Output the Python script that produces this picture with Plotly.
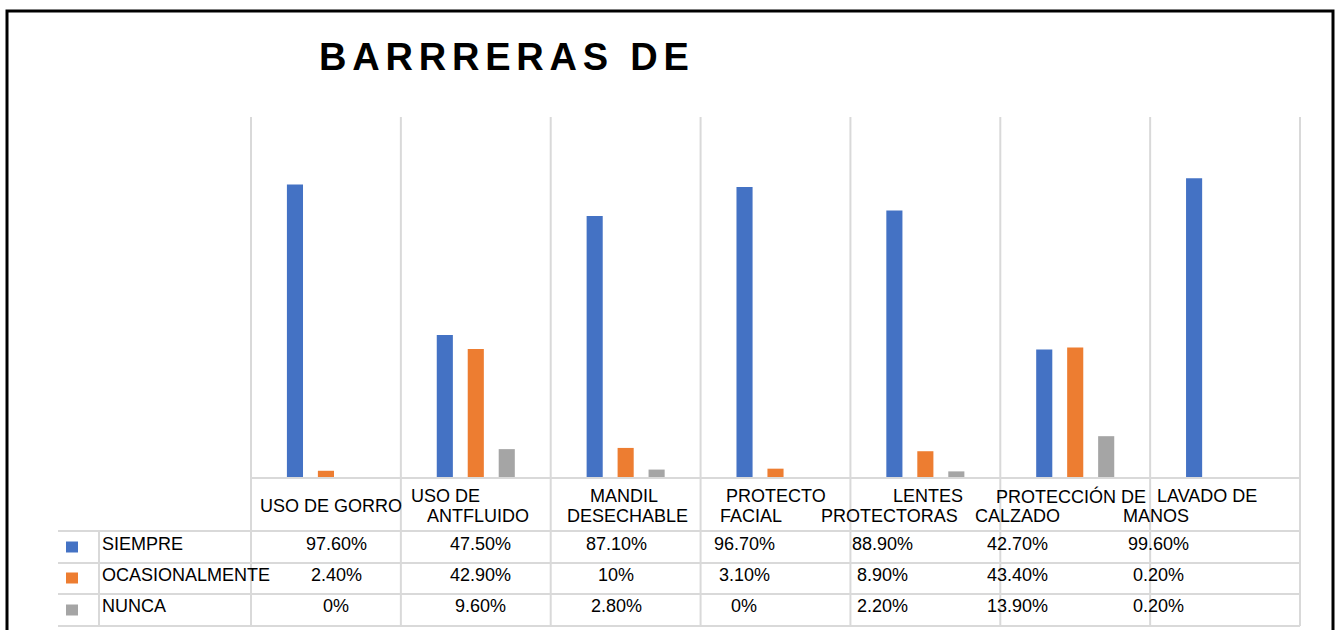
import plotly.graph_objects as go

W, H = 1339, 630

categorias = ["USO DE GORRO", "USO DE ANTFLUIDO", "MANDIL DESECHABLE", "PROTECTO FACIAL",
              "LENTES PROTECTORAS", "PROTECCIÓN DE CALZADO", "LAVADO DE MANOS"]
# como se ven las etiquetas partidas en dos lineas en la tabla
etiquetas = [["USO DE GORRO"], ["USO DE", "ANTFLUIDO"], ["MANDIL", "DESECHABLE"],
             ["PROTECTO", "FACIAL"], ["LENTES", "PROTECTORAS"],
             ["PROTECCIÓN DE", "CALZADO"], ["LAVADO DE", "MANOS"]]
series = ["SIEMPRE", "OCASIONALMENTE", "NUNCA"]
siempre = [97.6, 47.5, 87.1, 96.7, 88.9, 42.7, 99.6]
ocasionalmente = [2.4, 42.9, 10, 3.1, 8.9, 43.4, 0.2]
nunca = [0, 9.6, 2.8, 0, 2.2, 13.9, 0.2]
colores = ["#4472C4", "#ED7D31", "#A5A5A5"]

FONT = "Liberation Sans, Arial, sans-serif"


def px_x(x):
    return x / W


def px_y(y):
    return 1 - y / H


def fmt(v):
    if float(v).is_integer():
        return "%d%%" % v
    return "%.2f%%" % v


fig = go.Figure()
for nombre, vals, col in zip(series, [siempre, ocasionalmente, nunca], colores):
    fig.add_trace(go.Bar(x=categorias, y=vals, name=nombre, marker_color=col,
                         marker_line_width=0))

# geometria (pixeles)
plot_l, plot_r, plot_t, plot_b = 251, 1300, 117, 478
tabla_l = 58
filas = [531, 563, 594, 626]
centros_fila = [544, 575, 606]
centros_valor = [336, 480, 616, 744, 882, 1017, 1158]
celda_w = (plot_r - plot_l) / len(categorias)

shapes = []
grid = dict(color="#D9D9D9", width=2)
# borde exterior
shapes.append(dict(type="rect", xref="paper", yref="paper", x0=px_x(7), x1=px_x(1333),
                   y0=px_y(650), y1=px_y(11), line=dict(color="black", width=3)))
# lineas verticales entre categorias
for i in range(len(categorias) + 1):
    x = px_x(plot_l + i * celda_w)
    shapes.append(dict(type="line", xref="paper", yref="paper", x0=x, x1=x,
                       y0=px_y(filas[-1]), y1=px_y(plot_t), line=grid))
# base y filas de la tabla
shapes.append(dict(type="line", xref="paper", yref="paper", x0=px_x(plot_l), x1=px_x(plot_r),
                   y0=px_y(plot_b), y1=px_y(plot_b), line=grid))
for y in filas:
    shapes.append(dict(type="line", xref="paper", yref="paper", x0=px_x(tabla_l), x1=px_x(plot_r),
                       y0=px_y(y), y1=px_y(y), line=grid))
shapes.append(dict(type="line", xref="paper", yref="paper", x0=px_x(99), x1=px_x(99),
                   y0=px_y(filas[-1]), y1=px_y(filas[0]), line=grid))
# claves de leyenda
for yc, col in zip([547, 578, 610], colores):
    shapes.append(dict(type="rect", xref="paper", yref="paper", x0=px_x(66), x1=px_x(78),
                       y0=px_y(yc + 5.5), y1=px_y(yc - 5.5), fillcolor=col, line_width=0))

ann = []
txt = dict(family=FONT, size=18, color="black")
# etiquetas de categoria
pos_lineas = [[(331, 506)], [(446, 496), (478, 516)], [(624, 496), (627, 516)],
              [(776, 496), (751, 516)], [(928, 496), (889, 516)],
              [(1071, 496), (1017, 516)], [(1207, 496), (1156, 516)]]
for lineas, pos in zip(etiquetas, pos_lineas):
    for t, (x, y) in zip(lineas, pos):
        ann.append(dict(text=t, xref="paper", yref="paper", x=px_x(x), y=px_y(y),
                        xanchor="center", yanchor="middle", showarrow=False, font=txt))
# nombres de series
for nombre, yc in zip(series, centros_fila):
    ann.append(dict(text=nombre, xref="paper", yref="paper", x=px_x(100), y=px_y(yc),
                    xanchor="left", yanchor="middle", showarrow=False, font=txt))
# valores
for vals, yc in zip([siempre, ocasionalmente, nunca], centros_fila):
    for v, xc in zip(vals, centros_valor):
        ann.append(dict(text=fmt(v), xref="paper", yref="paper", x=px_x(xc), y=px_y(yc),
                        xanchor="center", yanchor="middle", showarrow=False, font=txt))
# titulo
ann.append(dict(text="<span style='letter-spacing:5.8px'><b>BARRRERAS DE</b></span>",
                xref="paper", yref="paper", x=px_x(317), y=px_y(57),
                xanchor="left", yanchor="middle", showarrow=False,
                font=dict(family=FONT, size=38, color="black")))

fig.update_layout(
    width=W, height=H, margin=dict(l=0, r=0, t=0, b=0),
    paper_bgcolor="white", plot_bgcolor="white",
    barmode="group", bargap=0.38, bargroupgap=0.48,
    showlegend=False,
    xaxis=dict(domain=[px_x(plot_l), px_x(plot_r)], showticklabels=False, showgrid=False,
               zeroline=False, showline=False, ticks=""),
    yaxis=dict(domain=[px_y(plot_b), px_y(plot_t)], range=[0, 120], showticklabels=False,
               showgrid=False, zeroline=False, showline=False, ticks=""),
    shapes=shapes, annotations=ann,
)

# sin margen en el body para que la figura ocupe toda la ventana
fig.write_html("out.html", config={"displayModeBar": False},
               post_script="document.body.style.margin='0';"
                           "document.documentElement.style.overflow='hidden';")
